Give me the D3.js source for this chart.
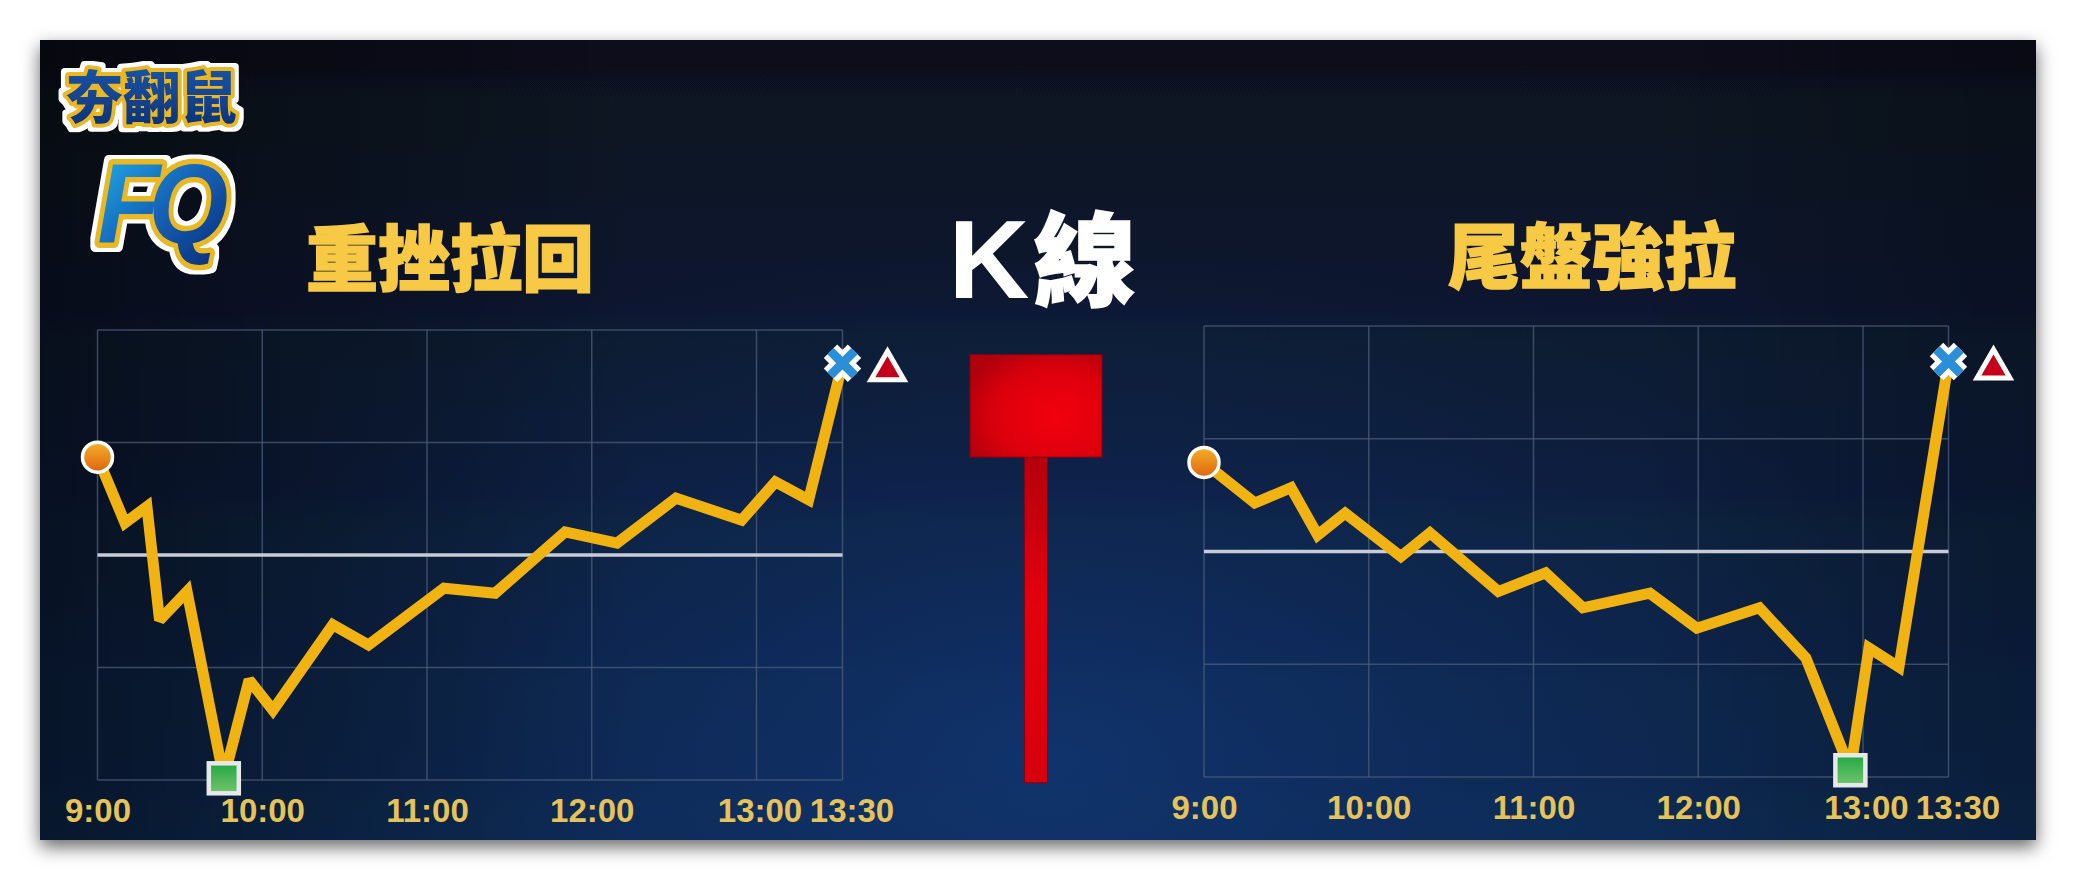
<!DOCTYPE html>
<html><head><meta charset="utf-8">
<script src="https://cdn.jsdelivr.net/npm/d3@7"></script>
<style>html,body{margin:0;padding:0;background:#fff;overflow:hidden}</style>
</head><body><svg id="c" width="2076" height="880"></svg>
<script>
// ---------- data ----------
const tickLabels = ["9:00", "10:00", "11:00", "12:00", "13:00", "13:30"];
const tickMinutes = [0, 60, 120, 180, 240, 270];
const gridValues = [-4, -2, 0, 2, 4];

const leftTitle = "重挫拉回";
const rightTitle = "尾盤強拉";
const centerTitleLatin = "K";
const centerTitleCJK = "線";
const logoTop = "夯翻鼠";
const logoBottom = "FQ";

const leftTimes  = [0, 10, 18, 22.6, 32.6, 46, 55.2, 63.9, 85.7, 98.7, 126.2, 144.8, 170.3, 189.2, 210.7, 234.6, 246.6, 258.2, 270];
const leftValues = [1.74, 0.57, 0.86, -1.16, -0.65, -3.97, -2.22, -2.76, -1.24, -1.6, -0.59, -0.68, 0.41, 0.21, 1.01, 0.62, 1.30, 0.98, 3.41];

const rightTimes  = [0, 18.5, 31.7, 41.4, 51.4, 71.7, 82.3, 107.2, 124.4, 138, 162.4, 179.5, 202.3, 219.2, 235.4, 242.1, 252.6, 270];
const rightValues = [1.58, 0.86, 1.13, 0.29, 0.68, -0.09, 0.33, -0.71, -0.38, -1.0, -0.74, -1.36, -1.0, -1.89, -3.88, -1.71, -2.05, 3.37];

const candleOpen = 1.74, candleClose = 3.56, candleHigh = 3.56, candleLow = -4.05;

// ---------- setup ----------
const svg = d3.select("#c");
const defs = svg.append("defs");

const shadow = defs.append("filter").attr("id", "shadow").attr("x", "-5%").attr("y", "-10%").attr("width", "110%").attr("height", "125%");
shadow.append("feDropShadow").attr("dx", 0).attr("dy", 7).attr("stdDeviation", 9).attr("flood-color", "#000").attr("flood-opacity", 0.6);

// white outline filter for the logo
const wo = defs.append("filter").attr("id", "wo").attr("x", "-20%").attr("y", "-20%").attr("width", "140%").attr("height", "140%");
wo.append("feMorphology").attr("in", "SourceAlpha").attr("operator", "dilate").attr("radius", 4).attr("result", "d");
wo.append("feFlood").attr("flood-color", "#ffffff");
wo.append("feComposite").attr("in2", "d").attr("operator", "in").attr("result", "w");
const wm = wo.append("feMerge");
wm.append("feMergeNode").attr("in", "w");
wm.append("feMergeNode").attr("in", "SourceGraphic");

function lin(id, x2, y2, stops) {
  const g = defs.append("linearGradient").attr("id", id).attr("x1", 0).attr("y1", 0).attr("x2", x2).attr("y2", y2);
  stops.forEach(([o, c, a]) => g.append("stop").attr("offset", o).attr("stop-color", c).attr("stop-opacity", a == null ? 1 : a));
  return g;
}
lin("bgV", 0, 1, [[0, "#07101d"], [0.45, "#0a1c36"], [1, "#0d2a52"]]);
lin("bgL", 1, 0, [[0, "#000", 0.45], [0.3, "#000", 0.0], [0.8, "#000", 0], [1, "#000", 0.25]]);
const glow = defs.append("radialGradient").attr("id", "glow").attr("gradientUnits", "userSpaceOnUse")
  .attr("cx", 1050).attr("cy", 760).attr("r", 900)
  .attr("gradientTransform", "translate(1050,760) scale(1,0.6) translate(-1050,-760)");
[[0, "#12397a", 0.7], [0.5, "#103270", 0.3], [1, "#0d2a52", 0]].forEach(([o, c, a]) =>
  glow.append("stop").attr("offset", o).attr("stop-color", c).attr("stop-opacity", a));

lin("orangeG", 0, 1, [[0, "#f7b02a"], [1, "#dc6410"]]);
lin("greenG", 0, 1, [[0, "#22a843"], [1, "#72c46c"]]);
lin("wickG", 0, 1, [[0, "#b4000c"], [0.45, "#e4000e"], [1, "#d6000c"]]);
lin("fqG", 1, 1, [[0, "#22b4ee"], [0.5, "#1565b8"], [1, "#0b2a78"]]);
lin("logoG", 0, 1, [[0, "#1d5cb0"], [1, "#0c2f74"]]);

const bodyG = defs.append("radialGradient").attr("id", "bodyG").attr("cx", 0.65).attr("cy", 0.6).attr("r", 0.75);
bodyG.append("stop").attr("offset", 0).attr("stop-color", "#f2000c");
bodyG.append("stop").attr("offset", 0.6).attr("stop-color", "#dc000c");
bodyG.append("stop").attr("offset", 1).attr("stop-color", "#b0000c");

// panel
const panel = {x: 40, y: 40, w: 1996, h: 800};
svg.append("rect").attr("x", panel.x).attr("y", panel.y).attr("width", panel.w).attr("height", panel.h)
  .attr("fill", "url(#bgV)").attr("filter", "url(#shadow)");
["glow", "bgL"].forEach(id => svg.append("rect").attr("x", panel.x).attr("y", panel.y)
  .attr("width", panel.w).attr("height", panel.h).attr("fill", `url(#${id})`));

// ---------- logo ----------
const cjkFont = "'Noto Sans CJK TC','Noto Sans CJK SC',sans-serif";
const logo = svg.append("g").attr("filter", "url(#wo)");
logo.append("text").text(logoTop).attr("x", 66).attr("y", 118).attr("font-size", 57)
  .attr("font-family", cjkFont).attr("font-weight", 900)
  .attr("fill", "url(#logoG)").attr("stroke", "#e9b824").attr("stroke-width", 8)
  .attr("stroke-linejoin", "round").attr("paint-order", "stroke");
logo.append("text").text(logoBottom).attr("transform", "translate(157,243) scale(0.9,1)")
  .attr("text-anchor", "middle").attr("font-size", 114).attr("letter-spacing", -13)
  .attr("font-family", "'Liberation Sans',Arial,sans-serif").attr("font-weight", 700).attr("font-style", "italic")
  .attr("fill", "url(#fqG)").attr("stroke", "#e9b824").attr("stroke-width", 11)
  .attr("stroke-linejoin", "round").attr("paint-order", "stroke");

// ---------- titles ----------
function title(txt, x, y) {
  svg.append("text").text(txt).attr("x", x).attr("y", y).attr("text-anchor", "middle")
    .attr("font-family", cjkFont).attr("font-weight", 900).attr("font-size", 72)
    .attr("fill", "#f7c944").attr("stroke", "#f7c944").attr("stroke-width", 1.5);
}
title(leftTitle, 450, 285);
title(rightTitle, 1592, 283);

const kt = svg.append("text").attr("x", 1042).attr("y", 298).attr("text-anchor", "middle").attr("fill", "#ffffff");
kt.append("tspan").text(centerTitleLatin).attr("font-family", "'Liberation Sans',Arial,sans-serif").attr("font-weight", 700).attr("font-size", 112);
kt.append("tspan").text(centerTitleCJK).attr("font-family", cjkFont).attr("font-weight", 900).attr("font-size", 102).attr("dx", 4)
  .attr("stroke", "#fff").attr("stroke-width", 1.5);

// ---------- charts ----------
function chart(times, values, xr, yr, labelY) {
  const x = d3.scaleLinear().domain([0, 240, 270]).range(xr);
  const y = d3.scaleLinear().domain([-4, 4]).range(yr);
  const g = svg.append("g");

  g.selectAll(".vg").data(tickMinutes).join("line")
    .attr("x1", d => x(d)).attr("x2", d => x(d)).attr("y1", y(4)).attr("y2", y(-4))
    .attr("stroke", "#4c5c78").attr("stroke-opacity", 0.75).attr("stroke-width", 1.5);
  g.selectAll(".hg").data(gridValues.filter(v => v !== 0)).join("line")
    .attr("x1", x(0)).attr("x2", x(270)).attr("y1", d => y(d)).attr("y2", d => y(d))
    .attr("stroke", "#4c5c78").attr("stroke-opacity", 0.75).attr("stroke-width", 1.5);
  g.append("line").attr("x1", x(0)).attr("x2", x(270)).attr("y1", y(0)).attr("y2", y(0))
    .attr("stroke", "#c8ccd6").attr("stroke-width", 3.5);

  const ax = d3.axisBottom(x).tickValues(tickMinutes).tickFormat((d, i) => tickLabels[i]).tickSize(0).tickPadding(0);
  const axg = g.append("g").attr("transform", `translate(0,${labelY})`).call(ax);
  axg.select(".domain").remove();
  axg.selectAll("text").attr("dy", 0).attr("y", 0)
    .attr("font-family", "'Liberation Sans',Arial,sans-serif").attr("font-weight", 700).attr("font-size", 33)
    .attr("fill", "#e6c35a")
    .attr("dx", (d, i) => i === tickMinutes.length - 1 ? 9 : (i === tickMinutes.length - 2 ? 3 : 0));

  const pts = times.map((t, i) => [x(t), y(values[i])]);
  g.append("path").datum(pts).attr("d", d3.line())
    .attr("fill", "none").attr("stroke", "#f1b312").attr("stroke-width", 11)
    .attr("stroke-linejoin", "miter").attr("stroke-miterlimit", 2.2);

  g.append("circle").attr("cx", pts[0][0]).attr("cy", pts[0][1]).attr("r", 15)
    .attr("fill", "url(#orangeG)").attr("stroke", "#fff").attr("stroke-width", 3.5);

  let li = 0; values.forEach((v, i) => { if (v < values[li]) li = i; });
  const [sx, sy] = pts[li];
  g.append("rect").attr("x", sx - 15).attr("y", sy - 15).attr("width", 30).attr("height", 30)
    .attr("fill", "url(#greenG)").attr("stroke", "#e6e8ea").attr("stroke-width", 4.5);

  const [ex, ey] = pts[pts.length - 1];
  const xg = g.append("g").attr("transform", `translate(${ex},${ey})`);
  const arm = 12;
  [[19, "#fff"], [9, "#2a8ed8"]].forEach(([w, c]) => {
    xg.append("path").attr("d", `M${-arm},${-arm}L${arm},${arm}M${-arm},${arm}L${arm},${-arm}`)
      .attr("stroke", c).attr("stroke-width", w).attr("stroke-linecap", "butt").attr("fill", "none");
  });

  g.append("path").attr("d", d3.symbol().type(d3.symbolTriangle).size(470)())
    .attr("transform", `translate(${ex + 45},${ey + 7})`)
    .attr("fill", "#c4001a").attr("stroke", "#fff").attr("stroke-width", 5).attr("stroke-linejoin", "miter");
  return y;
}

const yLeft = chart(leftTimes, leftValues, [97.5, 756.5, 842.5], [780, 330], 822);
chart(rightTimes, rightValues, [1204, 1863, 1948.5], [777, 326], 819);

// ---------- candle ----------
const cx = 1036;
const cg = svg.append("g");
cg.append("rect").attr("x", cx - 11.5).attr("y", yLeft(candleOpen)).attr("width", 23)
  .attr("height", yLeft(candleLow) - yLeft(candleOpen))
  .attr("fill", "url(#wickG)").attr("stroke", "#8a0010").attr("stroke-width", 1);
cg.append("rect").attr("x", cx - 66).attr("y", yLeft(candleClose)).attr("width", 132)
  .attr("height", yLeft(candleOpen) - yLeft(candleClose))
  .attr("fill", "url(#bodyG)").attr("stroke", "#8a0010").attr("stroke-width", 1);
</script></body></html>
